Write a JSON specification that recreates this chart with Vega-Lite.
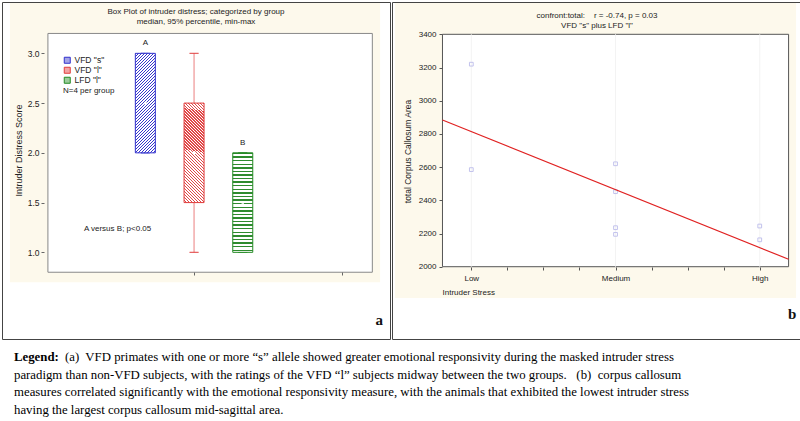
{
"$schema": "https://vega.github.io/schema/vega-lite/v6.json",
"background": "white",
"padding": {"left": 1, "top": 1, "right": 0, "bottom": 0},
"spacing": 0,
"config": {"view": {"stroke": null}, "font": "Liberation Sans"},
"datasets": {
 "boxes": [
  {"group": "VFD \"s\"", "pos": 2, "min": 2.0, "q1": 2.0, "median": 2.5, "q3": 3.0, "max": 3.0, "letter": "A"},
  {"group": "VFD \"l\"", "pos": 3, "min": 1.0, "q1": 1.5, "median": 2.0, "q3": 2.5, "max": 3.0, "letter": ""},
  {"group": "LFD \"l\"", "pos": 4, "min": 1.0, "q1": 1.0, "median": 1.5, "q3": 2.0, "max": 2.0, "letter": "B"}
 ],
 "points": [
  {"stress": 1, "area": 3220}, {"stress": 1, "area": 2585},
  {"stress": 2, "area": 2620}, {"stress": 2, "area": 2452}, {"stress": 2, "area": 2235}, {"stress": 2, "area": 2195},
  {"stress": 3, "area": 2245}, {"stress": 3, "area": 2162}
 ],
 "caption": [
  {"line": 1, "part": "head", "text": "Legend:"},
  {"line": 1, "part": "body", "text": "(a)\u00a0 VFD primates with one or more \u201cs\u201d allele showed greater emotional responsivity during the masked intruder stress"},
  {"line": 2, "part": "body", "text": "paradigm than non-VFD subjects, with the ratings of the VFD \u201cl\u201d subjects midway between the two groups.\u00a0\u00a0 (b)\u00a0 corpus callosum"},
  {"line": 3, "part": "body", "text": "measures correlated significantly with the emotional responsivity measure, with the animals that exhibited the lowest intruder stress"},
  {"line": 4, "part": "body", "text": "having the largest corpus callosum mid-sagittal area."}
 ]
},
"vconcat": [
 {"spacing": 0, "hconcat": [
  {
   "width": 388, "height": 337,
   "view": {"stroke": "#444", "strokeWidth": 1, "fill": "white"},
   "title": {"text": "Box Plot of intruder distress; categorized by group", "subtitle": "median, 95% percentile, min-max", "offset": -24, "fontSize": 8, "subtitleFontSize": 8, "fontWeight": "normal", "font": "Liberation Sans", "subtitleFont": "Liberation Sans", "color": "#222", "subtitleColor": "#222", "anchor": "middle", "subtitlePadding": 2, "zindex": 1},
   "data": {"name": "boxes"},
   "layer": [
    {"data": {"values": [{}]},
     "mark": {"type": "rect", "fill": "#fdf9ec"},
     "encoding": {
      "x": {"datum": -0.78, "type": "quantitative", "scale": {"domain": [-0.84, 6.92], "nice": false, "zero": false},
            "axis": {"title": null, "values": [3, 6.03], "labels": false, "offset": -67, "domain": false, "grid": false, "tickSize": 3, "tickColor": "#666", "zindex": 1}},
      "x2": {"datum": 6.82},
      "y": {"datum": 3.506, "type": "quantitative", "scale": {"domain": [0.129, 3.516], "nice": false, "zero": false},
            "axis": {"title": "Intruder Distress Score", "values": [1, 1.5, 2, 2.5, 3], "format": ".1f", "offset": -42, "domain": false, "grid": false, "tickSize": 3, "tickColor": "#666", "labelFontSize": 8.5, "labelFont": "Liberation Sans", "labelColor": "#222", "labelPadding": 2, "titleFontSize": 9, "titleFont": "Liberation Sans", "titleFontWeight": "normal", "titleColor": "#222", "titlePadding": 4, "titleY": 148, "zindex": 1}},
      "y2": {"datum": 0.70}
     }},
    {"data": {"values": [{}]},
     "mark": {"type": "rect", "fill": "white", "stroke": "#888", "strokeWidth": 1},
     "encoding": {"x": {"datum": 0, "type": "quantitative"}, "x2": {"datum": 6.66}, "y": {"datum": 3.2, "type": "quantitative"}, "y2": {"datum": 0.8}}},
    {"mark": {"type": "point", "shape": "square", "size": 0, "filled": true, "opacity": 1},
     "encoding": {"x": {"field": "pos", "type": "quantitative"}, "y": {"field": "median", "type": "quantitative"},
       "fill": {"field": "group", "type": "nominal", "scale": {"domain": ["VFD \"s\"", "VFD \"l\"", "LFD \"l\""], "range": ["#a4a4e6", "#f2a4a4", "#9ccc9c"]}}}},
    {"mark": {"type": "rule", "strokeWidth": 1, "opacity": 0.65},
     "encoding": {"x": {"field": "pos", "type": "quantitative"}, "y": {"field": "min", "type": "quantitative"}, "y2": {"field": "max"},
       "stroke": {"field": "group", "type": "nominal", "scale": {"domain": ["VFD \"s\"", "VFD \"l\"", "LFD \"l\""], "range": ["#3030cc", "#e03c3c", "#238a23"]}}}},
    {"mark": {"type": "tick", "orient": "horizontal", "size": 9, "thickness": 0.01, "filled": false, "strokeWidth": 1, "opacity": 0.65},
     "encoding": {"x": {"field": "pos", "type": "quantitative"}, "y": {"field": "max", "type": "quantitative"}, "stroke": {"field": "group", "type": "nominal"}}},
    {"mark": {"type": "tick", "orient": "horizontal", "size": 9, "thickness": 0.01, "filled": false, "strokeWidth": 1, "opacity": 0.65},
     "encoding": {"x": {"field": "pos", "type": "quantitative"}, "y": {"field": "min", "type": "quantitative"}, "stroke": {"field": "group", "type": "nominal"}}},
    {"transform": [{"filter": "datum.pos == 2"}],
     "mark": {"type": "bar", "width": 20, "strokeWidth": 1,
       "fill": {"gradient": "linear", "x1": 0, "y1": 0, "x2": 0.231, "y2": 1.154, "stops": [
{"offset":0,"color":"#3636cc"},{"offset":0.01,"color":"#3636cc"},{"offset":0.01,"color":"#fff"},{"offset":0.025,"color":"#fff"},
{"offset":0.025,"color":"#3636cc"},{"offset":0.035,"color":"#3636cc"},{"offset":0.035,"color":"#fff"},{"offset":0.05,"color":"#fff"},
{"offset":0.05,"color":"#3636cc"},{"offset":0.06,"color":"#3636cc"},{"offset":0.06,"color":"#fff"},{"offset":0.075,"color":"#fff"},
{"offset":0.075,"color":"#3636cc"},{"offset":0.085,"color":"#3636cc"},{"offset":0.085,"color":"#fff"},{"offset":0.1,"color":"#fff"},
{"offset":0.1,"color":"#3636cc"},{"offset":0.11,"color":"#3636cc"},{"offset":0.11,"color":"#fff"},{"offset":0.125,"color":"#fff"},
{"offset":0.125,"color":"#3636cc"},{"offset":0.135,"color":"#3636cc"},{"offset":0.135,"color":"#fff"},{"offset":0.15,"color":"#fff"},
{"offset":0.15,"color":"#3636cc"},{"offset":0.16,"color":"#3636cc"},{"offset":0.16,"color":"#fff"},{"offset":0.175,"color":"#fff"},
{"offset":0.175,"color":"#3636cc"},{"offset":0.185,"color":"#3636cc"},{"offset":0.185,"color":"#fff"},{"offset":0.2,"color":"#fff"},
{"offset":0.2,"color":"#3636cc"},{"offset":0.21,"color":"#3636cc"},{"offset":0.21,"color":"#fff"},{"offset":0.225,"color":"#fff"},
{"offset":0.225,"color":"#3636cc"},{"offset":0.235,"color":"#3636cc"},{"offset":0.235,"color":"#fff"},{"offset":0.25,"color":"#fff"},
{"offset":0.25,"color":"#3636cc"},{"offset":0.26,"color":"#3636cc"},{"offset":0.26,"color":"#fff"},{"offset":0.275,"color":"#fff"},
{"offset":0.275,"color":"#3636cc"},{"offset":0.285,"color":"#3636cc"},{"offset":0.285,"color":"#fff"},{"offset":0.3,"color":"#fff"},
{"offset":0.3,"color":"#3636cc"},{"offset":0.31,"color":"#3636cc"},{"offset":0.31,"color":"#fff"},{"offset":0.325,"color":"#fff"},
{"offset":0.325,"color":"#3636cc"},{"offset":0.335,"color":"#3636cc"},{"offset":0.335,"color":"#fff"},{"offset":0.35,"color":"#fff"},
{"offset":0.35,"color":"#3636cc"},{"offset":0.36,"color":"#3636cc"},{"offset":0.36,"color":"#fff"},{"offset":0.375,"color":"#fff"},
{"offset":0.375,"color":"#3636cc"},{"offset":0.385,"color":"#3636cc"},{"offset":0.385,"color":"#fff"},{"offset":0.4,"color":"#fff"},
{"offset":0.4,"color":"#3636cc"},{"offset":0.41,"color":"#3636cc"},{"offset":0.41,"color":"#fff"},{"offset":0.425,"color":"#fff"},
{"offset":0.425,"color":"#3636cc"},{"offset":0.435,"color":"#3636cc"},{"offset":0.435,"color":"#fff"},{"offset":0.45,"color":"#fff"},
{"offset":0.45,"color":"#3636cc"},{"offset":0.46,"color":"#3636cc"},{"offset":0.46,"color":"#fff"},{"offset":0.475,"color":"#fff"},
{"offset":0.475,"color":"#3636cc"},{"offset":0.485,"color":"#3636cc"},{"offset":0.485,"color":"#fff"},{"offset":0.5,"color":"#fff"},
{"offset":0.5,"color":"#3636cc"},{"offset":0.51,"color":"#3636cc"},{"offset":0.51,"color":"#fff"},{"offset":0.525,"color":"#fff"},
{"offset":0.525,"color":"#3636cc"},{"offset":0.535,"color":"#3636cc"},{"offset":0.535,"color":"#fff"},{"offset":0.55,"color":"#fff"},
{"offset":0.55,"color":"#3636cc"},{"offset":0.56,"color":"#3636cc"},{"offset":0.56,"color":"#fff"},{"offset":0.575,"color":"#fff"},
{"offset":0.575,"color":"#3636cc"},{"offset":0.585,"color":"#3636cc"},{"offset":0.585,"color":"#fff"},{"offset":0.6,"color":"#fff"},
{"offset":0.6,"color":"#3636cc"},{"offset":0.61,"color":"#3636cc"},{"offset":0.61,"color":"#fff"},{"offset":0.625,"color":"#fff"},
{"offset":0.625,"color":"#3636cc"},{"offset":0.635,"color":"#3636cc"},{"offset":0.635,"color":"#fff"},{"offset":0.65,"color":"#fff"},
{"offset":0.65,"color":"#3636cc"},{"offset":0.66,"color":"#3636cc"},{"offset":0.66,"color":"#fff"},{"offset":0.675,"color":"#fff"},
{"offset":0.675,"color":"#3636cc"},{"offset":0.685,"color":"#3636cc"},{"offset":0.685,"color":"#fff"},{"offset":0.7,"color":"#fff"},
{"offset":0.7,"color":"#3636cc"},{"offset":0.71,"color":"#3636cc"},{"offset":0.71,"color":"#fff"},{"offset":0.725,"color":"#fff"},
{"offset":0.725,"color":"#3636cc"},{"offset":0.735,"color":"#3636cc"},{"offset":0.735,"color":"#fff"},{"offset":0.75,"color":"#fff"},
{"offset":0.75,"color":"#3636cc"},{"offset":0.76,"color":"#3636cc"},{"offset":0.76,"color":"#fff"},{"offset":0.775,"color":"#fff"},
{"offset":0.775,"color":"#3636cc"},{"offset":0.785,"color":"#3636cc"},{"offset":0.785,"color":"#fff"},{"offset":0.8,"color":"#fff"},
{"offset":0.8,"color":"#3636cc"},{"offset":0.81,"color":"#3636cc"},{"offset":0.81,"color":"#fff"},{"offset":0.825,"color":"#fff"},
{"offset":0.825,"color":"#3636cc"},{"offset":0.835,"color":"#3636cc"},{"offset":0.835,"color":"#fff"},{"offset":0.85,"color":"#fff"},
{"offset":0.85,"color":"#3636cc"},{"offset":0.86,"color":"#3636cc"},{"offset":0.86,"color":"#fff"},{"offset":0.875,"color":"#fff"},
{"offset":0.875,"color":"#3636cc"},{"offset":0.885,"color":"#3636cc"},{"offset":0.885,"color":"#fff"},{"offset":0.9,"color":"#fff"},
{"offset":0.9,"color":"#3636cc"},{"offset":0.91,"color":"#3636cc"},{"offset":0.91,"color":"#fff"},{"offset":0.925,"color":"#fff"},
{"offset":0.925,"color":"#3636cc"},{"offset":0.935,"color":"#3636cc"},{"offset":0.935,"color":"#fff"},{"offset":0.95,"color":"#fff"},
{"offset":0.95,"color":"#3636cc"},{"offset":0.96,"color":"#3636cc"},{"offset":0.96,"color":"#fff"},{"offset":0.975,"color":"#fff"},
{"offset":0.975,"color":"#3636cc"},{"offset":0.985,"color":"#3636cc"},{"offset":0.985,"color":"#fff"},{"offset":1,"color":"#fff"}
       ]}},
     "encoding": {"x": {"field": "pos", "type": "quantitative"}, "y": {"field": "q1", "type": "quantitative"}, "y2": {"field": "q3"},
       "stroke": {"field": "group", "type": "nominal",
         "legend": {"orient": "none", "legendX": 61, "legendY": 54, "title": "N=4 per group", "titleOrient": "bottom", "titleAnchor": "start", "titleFontSize": 8, "titleFont": "Liberation Sans", "titleFontWeight": "normal", "titleColor": "#222", "titlePadding": 2, "labelFontSize": 8.5, "labelFont": "Liberation Sans", "labelColor": "#222", "labelOffset": 3, "symbolType": "square", "symbolSize": 36, "symbolStrokeWidth": 1, "rowPadding": -2, "padding": 0, "zindex": 1}}}},
    {"transform": [{"filter": "datum.pos == 3"}],
     "mark": {"type": "bar", "width": 20, "strokeWidth": 1,
       "fill": {"gradient": "linear", "x1": 1, "y1": 0, "x2": 0.769, "y2": 1.154, "stops": [
{"offset":0,"color":"#e04848"},{"offset":0.01,"color":"#e04848"},{"offset":0.01,"color":"#fff"},{"offset":0.025,"color":"#fff"},
{"offset":0.025,"color":"#e04848"},{"offset":0.035,"color":"#e04848"},{"offset":0.035,"color":"#fff"},{"offset":0.05,"color":"#fff"},
{"offset":0.05,"color":"#e04848"},{"offset":0.06,"color":"#e04848"},{"offset":0.06,"color":"#fff"},{"offset":0.075,"color":"#fff"},
{"offset":0.075,"color":"#e04848"},{"offset":0.085,"color":"#e04848"},{"offset":0.085,"color":"#fff"},{"offset":0.1,"color":"#fff"},
{"offset":0.1,"color":"#e04848"},{"offset":0.11,"color":"#e04848"},{"offset":0.11,"color":"#fff"},{"offset":0.125,"color":"#fff"},
{"offset":0.125,"color":"#e04848"},{"offset":0.135,"color":"#e04848"},{"offset":0.135,"color":"#fff"},{"offset":0.15,"color":"#fff"},
{"offset":0.15,"color":"#e04848"},{"offset":0.16,"color":"#e04848"},{"offset":0.16,"color":"#fff"},{"offset":0.175,"color":"#fff"},
{"offset":0.175,"color":"#e04848"},{"offset":0.185,"color":"#e04848"},{"offset":0.185,"color":"#fff"},{"offset":0.2,"color":"#fff"},
{"offset":0.2,"color":"#e04848"},{"offset":0.21,"color":"#e04848"},{"offset":0.21,"color":"#fff"},{"offset":0.225,"color":"#fff"},
{"offset":0.225,"color":"#e04848"},{"offset":0.235,"color":"#e04848"},{"offset":0.235,"color":"#fff"},{"offset":0.25,"color":"#fff"},
{"offset":0.25,"color":"#e04848"},{"offset":0.26,"color":"#e04848"},{"offset":0.26,"color":"#fff"},{"offset":0.275,"color":"#fff"},
{"offset":0.275,"color":"#e04848"},{"offset":0.285,"color":"#e04848"},{"offset":0.285,"color":"#fff"},{"offset":0.3,"color":"#fff"},
{"offset":0.3,"color":"#e04848"},{"offset":0.31,"color":"#e04848"},{"offset":0.31,"color":"#fff"},{"offset":0.325,"color":"#fff"},
{"offset":0.325,"color":"#e04848"},{"offset":0.335,"color":"#e04848"},{"offset":0.335,"color":"#fff"},{"offset":0.35,"color":"#fff"},
{"offset":0.35,"color":"#e04848"},{"offset":0.36,"color":"#e04848"},{"offset":0.36,"color":"#fff"},{"offset":0.375,"color":"#fff"},
{"offset":0.375,"color":"#e04848"},{"offset":0.385,"color":"#e04848"},{"offset":0.385,"color":"#fff"},{"offset":0.4,"color":"#fff"},
{"offset":0.4,"color":"#e04848"},{"offset":0.41,"color":"#e04848"},{"offset":0.41,"color":"#fff"},{"offset":0.425,"color":"#fff"},
{"offset":0.425,"color":"#e04848"},{"offset":0.435,"color":"#e04848"},{"offset":0.435,"color":"#fff"},{"offset":0.45,"color":"#fff"},
{"offset":0.45,"color":"#e04848"},{"offset":0.46,"color":"#e04848"},{"offset":0.46,"color":"#fff"},{"offset":0.475,"color":"#fff"},
{"offset":0.475,"color":"#e04848"},{"offset":0.485,"color":"#e04848"},{"offset":0.485,"color":"#fff"},{"offset":0.5,"color":"#fff"},
{"offset":0.5,"color":"#e04848"},{"offset":0.51,"color":"#e04848"},{"offset":0.51,"color":"#fff"},{"offset":0.525,"color":"#fff"},
{"offset":0.525,"color":"#e04848"},{"offset":0.535,"color":"#e04848"},{"offset":0.535,"color":"#fff"},{"offset":0.55,"color":"#fff"},
{"offset":0.55,"color":"#e04848"},{"offset":0.56,"color":"#e04848"},{"offset":0.56,"color":"#fff"},{"offset":0.575,"color":"#fff"},
{"offset":0.575,"color":"#e04848"},{"offset":0.585,"color":"#e04848"},{"offset":0.585,"color":"#fff"},{"offset":0.6,"color":"#fff"},
{"offset":0.6,"color":"#e04848"},{"offset":0.61,"color":"#e04848"},{"offset":0.61,"color":"#fff"},{"offset":0.625,"color":"#fff"},
{"offset":0.625,"color":"#e04848"},{"offset":0.635,"color":"#e04848"},{"offset":0.635,"color":"#fff"},{"offset":0.65,"color":"#fff"},
{"offset":0.65,"color":"#e04848"},{"offset":0.66,"color":"#e04848"},{"offset":0.66,"color":"#fff"},{"offset":0.675,"color":"#fff"},
{"offset":0.675,"color":"#e04848"},{"offset":0.685,"color":"#e04848"},{"offset":0.685,"color":"#fff"},{"offset":0.7,"color":"#fff"},
{"offset":0.7,"color":"#e04848"},{"offset":0.71,"color":"#e04848"},{"offset":0.71,"color":"#fff"},{"offset":0.725,"color":"#fff"},
{"offset":0.725,"color":"#e04848"},{"offset":0.735,"color":"#e04848"},{"offset":0.735,"color":"#fff"},{"offset":0.75,"color":"#fff"},
{"offset":0.75,"color":"#e04848"},{"offset":0.76,"color":"#e04848"},{"offset":0.76,"color":"#fff"},{"offset":0.775,"color":"#fff"},
{"offset":0.775,"color":"#e04848"},{"offset":0.785,"color":"#e04848"},{"offset":0.785,"color":"#fff"},{"offset":0.8,"color":"#fff"},
{"offset":0.8,"color":"#e04848"},{"offset":0.81,"color":"#e04848"},{"offset":0.81,"color":"#fff"},{"offset":0.825,"color":"#fff"},
{"offset":0.825,"color":"#e04848"},{"offset":0.835,"color":"#e04848"},{"offset":0.835,"color":"#fff"},{"offset":0.85,"color":"#fff"},
{"offset":0.85,"color":"#e04848"},{"offset":0.86,"color":"#e04848"},{"offset":0.86,"color":"#fff"},{"offset":0.875,"color":"#fff"},
{"offset":0.875,"color":"#e04848"},{"offset":0.885,"color":"#e04848"},{"offset":0.885,"color":"#fff"},{"offset":0.9,"color":"#fff"},
{"offset":0.9,"color":"#e04848"},{"offset":0.91,"color":"#e04848"},{"offset":0.91,"color":"#fff"},{"offset":0.925,"color":"#fff"},
{"offset":0.925,"color":"#e04848"},{"offset":0.935,"color":"#e04848"},{"offset":0.935,"color":"#fff"},{"offset":0.95,"color":"#fff"},
{"offset":0.95,"color":"#e04848"},{"offset":0.96,"color":"#e04848"},{"offset":0.96,"color":"#fff"},{"offset":0.975,"color":"#fff"},
{"offset":0.975,"color":"#e04848"},{"offset":0.985,"color":"#e04848"},{"offset":0.985,"color":"#fff"},{"offset":1,"color":"#fff"}
       ]}},
     "encoding": {"x": {"field": "pos", "type": "quantitative"}, "y": {"field": "q1", "type": "quantitative"}, "y2": {"field": "q3"}, "stroke": {"field": "group", "type": "nominal"}}},
    {"transform": [{"filter": "datum.pos == 4"}],
     "mark": {"type": "bar", "width": 20, "strokeWidth": 1,
       "fill": {"gradient": "linear", "x1": 0, "y1": 0, "x2": 0, "y2": 1, "stops": [
{"offset":0,"color":"#2e8b2e"},{"offset":0.014,"color":"#2e8b2e"},{"offset":0.014,"color":"#fff"},{"offset":0.036,"color":"#fff"},
{"offset":0.036,"color":"#2e8b2e"},{"offset":0.05,"color":"#2e8b2e"},{"offset":0.05,"color":"#fff"},{"offset":0.072,"color":"#fff"},
{"offset":0.072,"color":"#2e8b2e"},{"offset":0.086,"color":"#2e8b2e"},{"offset":0.086,"color":"#fff"},{"offset":0.108,"color":"#fff"},
{"offset":0.108,"color":"#2e8b2e"},{"offset":0.122,"color":"#2e8b2e"},{"offset":0.122,"color":"#fff"},{"offset":0.144,"color":"#fff"},
{"offset":0.144,"color":"#2e8b2e"},{"offset":0.158,"color":"#2e8b2e"},{"offset":0.158,"color":"#fff"},{"offset":0.18,"color":"#fff"},
{"offset":0.18,"color":"#2e8b2e"},{"offset":0.194,"color":"#2e8b2e"},{"offset":0.194,"color":"#fff"},{"offset":0.216,"color":"#fff"},
{"offset":0.216,"color":"#2e8b2e"},{"offset":0.23,"color":"#2e8b2e"},{"offset":0.23,"color":"#fff"},{"offset":0.252,"color":"#fff"},
{"offset":0.252,"color":"#2e8b2e"},{"offset":0.266,"color":"#2e8b2e"},{"offset":0.266,"color":"#fff"},{"offset":0.288,"color":"#fff"},
{"offset":0.288,"color":"#2e8b2e"},{"offset":0.302,"color":"#2e8b2e"},{"offset":0.302,"color":"#fff"},{"offset":0.324,"color":"#fff"},
{"offset":0.324,"color":"#2e8b2e"},{"offset":0.338,"color":"#2e8b2e"},{"offset":0.338,"color":"#fff"},{"offset":0.36,"color":"#fff"},
{"offset":0.36,"color":"#2e8b2e"},{"offset":0.374,"color":"#2e8b2e"},{"offset":0.374,"color":"#fff"},{"offset":0.396,"color":"#fff"},
{"offset":0.396,"color":"#2e8b2e"},{"offset":0.41,"color":"#2e8b2e"},{"offset":0.41,"color":"#fff"},{"offset":0.432,"color":"#fff"},
{"offset":0.432,"color":"#2e8b2e"},{"offset":0.446,"color":"#2e8b2e"},{"offset":0.446,"color":"#fff"},{"offset":0.468,"color":"#fff"},
{"offset":0.468,"color":"#2e8b2e"},{"offset":0.482,"color":"#2e8b2e"},{"offset":0.482,"color":"#fff"},{"offset":0.504,"color":"#fff"},
{"offset":0.504,"color":"#2e8b2e"},{"offset":0.518,"color":"#2e8b2e"},{"offset":0.518,"color":"#fff"},{"offset":0.54,"color":"#fff"},
{"offset":0.54,"color":"#2e8b2e"},{"offset":0.554,"color":"#2e8b2e"},{"offset":0.554,"color":"#fff"},{"offset":0.576,"color":"#fff"},
{"offset":0.576,"color":"#2e8b2e"},{"offset":0.59,"color":"#2e8b2e"},{"offset":0.59,"color":"#fff"},{"offset":0.612,"color":"#fff"},
{"offset":0.612,"color":"#2e8b2e"},{"offset":0.626,"color":"#2e8b2e"},{"offset":0.626,"color":"#fff"},{"offset":0.648,"color":"#fff"},
{"offset":0.648,"color":"#2e8b2e"},{"offset":0.662,"color":"#2e8b2e"},{"offset":0.662,"color":"#fff"},{"offset":0.684,"color":"#fff"},
{"offset":0.684,"color":"#2e8b2e"},{"offset":0.698,"color":"#2e8b2e"},{"offset":0.698,"color":"#fff"},{"offset":0.72,"color":"#fff"},
{"offset":0.72,"color":"#2e8b2e"},{"offset":0.734,"color":"#2e8b2e"},{"offset":0.734,"color":"#fff"},{"offset":0.756,"color":"#fff"},
{"offset":0.756,"color":"#2e8b2e"},{"offset":0.77,"color":"#2e8b2e"},{"offset":0.77,"color":"#fff"},{"offset":0.792,"color":"#fff"},
{"offset":0.792,"color":"#2e8b2e"},{"offset":0.806,"color":"#2e8b2e"},{"offset":0.806,"color":"#fff"},{"offset":0.828,"color":"#fff"},
{"offset":0.828,"color":"#2e8b2e"},{"offset":0.842,"color":"#2e8b2e"},{"offset":0.842,"color":"#fff"},{"offset":0.864,"color":"#fff"},
{"offset":0.864,"color":"#2e8b2e"},{"offset":0.878,"color":"#2e8b2e"},{"offset":0.878,"color":"#fff"},{"offset":0.9,"color":"#fff"},
{"offset":0.9,"color":"#2e8b2e"},{"offset":0.914,"color":"#2e8b2e"},{"offset":0.914,"color":"#fff"},{"offset":0.936,"color":"#fff"},
{"offset":0.936,"color":"#2e8b2e"},{"offset":0.95,"color":"#2e8b2e"},{"offset":0.95,"color":"#fff"},{"offset":0.972,"color":"#fff"},
{"offset":0.972,"color":"#2e8b2e"},{"offset":0.986,"color":"#2e8b2e"},{"offset":0.986,"color":"#fff"},{"offset":1,"color":"#fff"}
       ]}},
     "encoding": {"x": {"field": "pos", "type": "quantitative"}, "y": {"field": "q1", "type": "quantitative"}, "y2": {"field": "q3"}, "stroke": {"field": "group", "type": "nominal"}}},
    {"mark": {"type": "point", "shape": "square", "size": 6, "filled": true, "color": "white", "opacity": 1},
     "encoding": {"x": {"field": "pos", "type": "quantitative"}, "y": {"field": "median", "type": "quantitative"}}},
    {"mark": {"type": "text", "fontSize": 8, "font": "Liberation Sans", "color": "#222", "dy": -10, "baseline": "middle"},
     "encoding": {"x": {"field": "pos", "type": "quantitative"}, "y": {"field": "max", "type": "quantitative"}, "text": {"field": "letter"}}},
    {"data": {"values": [{"note": "A versus B; p<0.05"}]},
     "mark": {"type": "text", "fontSize": 8, "font": "Liberation Sans", "color": "#222", "baseline": "middle"},
     "encoding": {"x": {"datum": 1.43, "type": "quantitative"}, "y": {"datum": 1.234, "type": "quantitative"}, "text": {"field": "note"}}},
    {"data": {"values": [{"panel": "a"}]},
     "mark": {"type": "text", "fontSize": 15, "font": "Liberation Serif", "fontWeight": "bold", "color": "#111", "baseline": "middle"},
     "encoding": {"x": {"datum": 6.8, "type": "quantitative"}, "y": {"datum": 0.32, "type": "quantitative"}, "text": {"field": "panel"}}}
   ]
  },
  {
   "width": 410, "height": 337,
   "view": {"stroke": "#444", "strokeWidth": 1, "fill": "white"},
   "title": {"text": "confront:total:\u00a0\u00a0\u00a0 r = -0.74, p = 0.03", "subtitle": "VFD \"s\" plus LFD \"l\"", "offset": -28, "fontSize": 8, "subtitleFontSize": 8, "fontWeight": "normal", "font": "Liberation Sans", "subtitleFont": "Liberation Sans", "color": "#222", "subtitleColor": "#222", "anchor": "middle", "subtitlePadding": 2, "zindex": 1},
   "data": {"name": "points"},
   "layer": [
    {"data": {"values": [{}]},
     "mark": {"type": "rect", "fill": "#fdf9ec"},
     "encoding": {
      "x": {"datum": 0.471, "type": "quantitative", "scale": {"domain": [0.45, 3.293], "nice": false, "zero": false},
            "axis": {"title": "Intruder Stress", "values": [1, 1.25, 1.5, 1.75, 2, 2.25, 2.5, 2.75, 3], "labelExpr": "datum.value == 1 ? 'Low' : datum.value == 2 ? 'Medium' : datum.value == 3 ? 'High' : ''", "offset": -72, "domain": false, "grid": false, "tickSize": 3, "tickColor": "#555", "labelFontSize": 8, "labelFont": "Liberation Sans", "labelColor": "#222", "labelPadding": 4, "labelFlush": false, "labelOverlap": false, "titleFontSize": 8, "titleFont": "Liberation Sans", "titleFontWeight": "normal", "titleColor": "#222", "titleX": 50, "titleY": 25, "titleAlign": "left", "titleBaseline": "middle", "zindex": 1}},
      "x2": {"datum": 3.252},
      "y": {"datum": 3588.6, "type": "quantitative", "scale": {"domain": [1564.5, 3594.6], "nice": false, "zero": false},
            "axis": {"title": "total Corpus Callosum Area", "values": [2000, 2200, 2400, 2600, 2800, 3000, 3200, 3400], "format": "d", "offset": -50, "domain": false, "grid": false, "tickSize": 3, "tickColor": "#555", "labelFontSize": 8, "labelFont": "Liberation Sans", "labelColor": "#222", "labelPadding": 3, "titleFontSize": 8.5, "titleFont": "Liberation Sans", "titleFontWeight": "normal", "titleColor": "#222", "titlePadding": 6, "titleY": 149, "zindex": 1}},
      "y2": {"datum": 1811.4}
     }},
    {"data": {"values": [{}]},
     "mark": {"type": "rect", "fill": "white", "stroke": "#555", "strokeWidth": 1},
     "encoding": {"x": {"datum": 0.8, "type": "quantitative"}, "x2": {"datum": 3.2}, "y": {"datum": 3400, "type": "quantitative"}, "y2": {"datum": 2000}}},
    {"data": {"values": [{"stress": 1}, {"stress": 2}, {"stress": 3}]},
     "mark": {"type": "rule", "color": "#f3f3f3", "strokeWidth": 1},
     "encoding": {"x": {"field": "stress", "type": "quantitative"}, "y": {"datum": 2000, "type": "quantitative"}, "y2": {"datum": 3400}}},
    {"mark": {"type": "point", "shape": "square", "size": 14, "filled": false, "color": "#c2c2ec", "strokeWidth": 1, "opacity": 1},
     "encoding": {"x": {"field": "stress", "type": "quantitative"}, "y": {"field": "area", "type": "quantitative"}}},
    {"transform": [{"regression": "area", "on": "stress", "extent": [0.8, 3.2]}],
     "mark": {"type": "line", "color": "#e02222", "strokeWidth": 1.2},
     "encoding": {"x": {"field": "stress", "type": "quantitative"}, "y": {"field": "area", "type": "quantitative"}}},
    {"data": {"values": [{"panel": "b"}]},
     "mark": {"type": "text", "fontSize": 15, "font": "Liberation Serif", "fontWeight": "bold", "color": "#111", "baseline": "middle"},
     "encoding": {"x": {"datum": 3.224, "type": "quantitative"}, "y": {"datum": 1715, "type": "quantitative"}, "text": {"field": "panel"}}}
   ]
  }
 ]},
 {
  "width": 780, "height": 80,
  "data": {"name": "caption"},
  "layer": [
   {"transform": [{"filter": "datum.part == 'head'"}],
    "mark": {"type": "text", "align": "left", "baseline": "middle", "font": "Liberation Serif", "fontSize": 12.8, "fontWeight": "bold", "color": "black", "dx": 12},
    "encoding": {"x": {"datum": 0, "type": "quantitative", "scale": {"domain": [0, 1]}, "axis": null},
                 "y": {"field": "line", "type": "quantitative", "scale": {"domain": [0, 4.6], "reverse": true, "nice": false, "zero": false}, "axis": null},
                 "text": {"field": "text"}}},
   {"transform": [{"filter": "datum.part == 'body' && datum.line == 1"}],
    "mark": {"type": "text", "align": "left", "baseline": "middle", "font": "Liberation Serif", "fontSize": 12.8, "color": "black", "dx": 63},
    "encoding": {"x": {"datum": 0, "type": "quantitative"}, "y": {"field": "line", "type": "quantitative"}, "text": {"field": "text"}}},
   {"transform": [{"filter": "datum.part == 'body' && datum.line > 1"}],
    "mark": {"type": "text", "align": "left", "baseline": "middle", "font": "Liberation Serif", "fontSize": 12.8, "color": "black", "dx": 12},
    "encoding": {"x": {"datum": 0, "type": "quantitative"}, "y": {"field": "line", "type": "quantitative"}, "text": {"field": "text"}}}
  ]
 }
]
}
